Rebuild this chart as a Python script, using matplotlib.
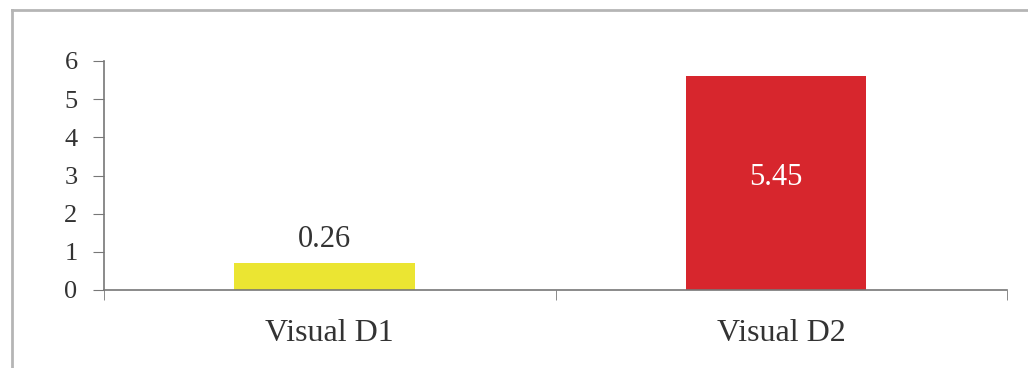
import matplotlib.pyplot as plt
from matplotlib.lines import Line2D

categories = ["Visual D1", "Visual D2"]
bar_heights = [0.72, 5.62]      # heights as drawn in the picture
bar_labels = ["0.26", "5.45"]   # printed data labels
bar_colors = ["#ebe532", "#d7262d"]
y_ticks = [0, 1, 2, 3, 4, 5, 6]

plt.rcParams["font.family"] = ["Liberation Serif", "DejaVu Serif"]

fig = plt.figure(figsize=(10.28, 3.68), dpi=100)
ax = fig.add_axes([104 / 1028, 1 - 290 / 368, (1007 - 104) / 1028, (290 - 61) / 368])

x = [0, 1]
bars = ax.bar([xi - 0.012 for xi in x], bar_heights, width=0.4, color=bar_colors, zorder=2)

# data labels: first above the bar, second inside in white
ax.text(bars[0].get_x() + bars[0].get_width() / 2, bar_heights[0] + 0.22, bar_labels[0],
        ha="center", va="bottom", fontsize=22, color="#333333")
ax.text(bars[1].get_x() + bars[1].get_width() / 2, 2.95, bar_labels[1],
        ha="center", va="center", fontsize=22, color="white")

ax.set_xlim(-0.5, 1.5)
ax.set_ylim(0, 6)
ax.set_yticks(y_ticks)
ax.set_yticklabels([str(t) for t in y_ticks], fontsize=19, color="#333333")
ax.set_xticks(x)
ax.set_xticklabels(categories, fontsize=23, color="#333333")
ax.tick_params(axis="x", length=0, pad=21)
ax.set_xticks([-0.5, 0.5, 1.5], minor=True)
ax.tick_params(axis="x", which="minor", length=7, direction="out", color="#777777")
ax.tick_params(axis="y", length=8, direction="out", color="#777777", pad=11)

for side in ["top", "right"]:
    ax.spines[side].set_visible(False)
for side in ["left", "bottom"]:
    ax.spines[side].set_color("#777777")
    ax.spines[side].set_linewidth(1.2)

# outer frame (top and left edges visible)
fig.add_artist(Line2D([12 / 1028, 1.0], [1 - 10 / 368, 1 - 10 / 368],
                      transform=fig.transFigure, color="#b5b5b5", lw=2))
fig.add_artist(Line2D([12 / 1028, 12 / 1028], [0.0, 1 - 10 / 368],
                      transform=fig.transFigure, color="#b5b5b5", lw=2))

fig.savefig("out.png", dpi=100)
